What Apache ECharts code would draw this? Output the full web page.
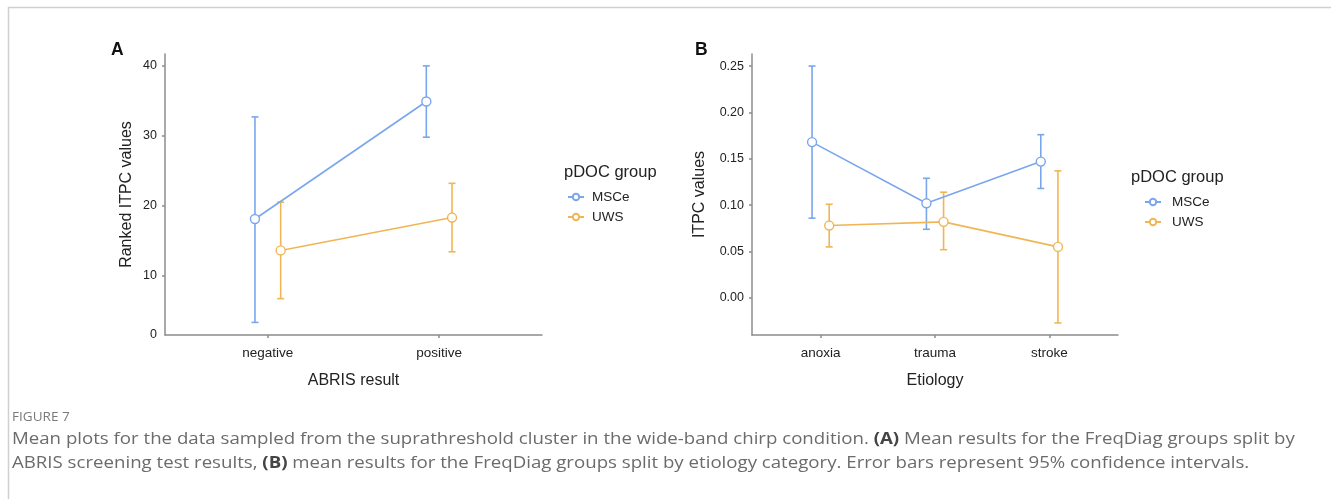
<!DOCTYPE html>
<html>
<head>
<meta charset="utf-8">
<script src="https://cdn.jsdelivr.net/npm/echarts@6/dist/echarts.min.js"></script>
<style>
html,body{margin:0;padding:0;background:#fff;}
#chart{width:1331px;height:499px;}
</style>
</head>
<body>
<div id="chart"></div>
<script>
// ---------- data ----------
const groups = ['MSCe', 'UWS'];

// Panel A: ABRIS result
const catsA = ['negative', 'positive'];
const msceA_mean = [18.1, 34.9];
const msceA_lo   = [3.3, 29.8];
const msceA_hi   = [32.7, 40.0];
const uwsA_mean  = [13.6, 18.3];
const uwsA_lo    = [6.7, 13.4];
const uwsA_hi    = [20.5, 23.2];
const yTicksA    = [0, 10, 20, 30, 40];

// Panel B: Etiology
const catsB = ['anoxia', 'trauma', 'stroke'];
const msceB_mean = [0.168, 0.102, 0.147];
const msceB_lo   = [0.086, 0.074, 0.118];
const msceB_hi   = [0.250, 0.129, 0.176];
const uwsB_mean  = [0.078, 0.082, 0.055];
const uwsB_lo    = [0.055, 0.052, -0.027];
const uwsB_hi    = [0.101, 0.114, 0.137];
const yTicksB    = [0, 0.05, 0.10, 0.15, 0.20, 0.25];

const captionHead = 'FIGURE 7';
const captionLine1a = 'Mean plots for the data sampled from the suprathreshold cluster in the wide-band chirp condition. ';
const captionLine1b = ' Mean results for the FreqDiag groups split by';
const captionLine2a = 'ABRIS screening test results, ';
const captionLine2b = ' mean results for the FreqDiag groups split by etiology category. Error bars represent 95% confidence intervals.';

// ---------- style ----------
const COL = { MSCe: '#7aa6ee', UWS: '#f0b655' };
const DODGE = 0.075;
const AXIS_COL = '#8c8c8c';
const FONT = 'Liberation Sans, Arial, sans-serif';
const yMinA = 1.5, yMaxA = 41.7;
const yMinB = -0.04, yMaxB = 0.263;

function xAxisFor(cats, gridIndex, name) {
  const vals = cats.map((c, i) => i + 1);
  return {
    type: 'value', gridIndex, min: 0.4, max: cats.length + 0.6,
    name, nameLocation: 'middle', nameGap: 38,
    nameTextStyle: { fontFamily: FONT, fontSize: 16, color: '#222' },
    axisLine: { show: true, onZero: false, lineStyle: { color: AXIS_COL, width: 1.5 } },
    axisTick: { show: true, length: 3, customValues: vals, lineStyle: { color: AXIS_COL, width: 1.5 } },
    axisLabel: { customValues: vals, margin: 11, fontFamily: FONT, fontSize: 13.5, color: '#222',
      formatter: v => cats[Math.round(v) - 1] || '' },
    splitLine: { show: false }
  };
}

function yAxisFor(gridIndex, min, max, ticks, fmt, name, nameGap) {
  const labelVals = ticks.map(v => Math.max(v, min));
  const tickVals = ticks.filter(v => v > min);
  return {
    type: 'value', gridIndex, min, max,
    name, nameLocation: 'middle', nameGap,
    nameTextStyle: { fontFamily: FONT, fontSize: 16, color: '#222' },
    axisLine: { show: true, onZero: false, lineStyle: { color: AXIS_COL, width: 1.5 } },
    axisTick: { show: true, length: 3, customValues: tickVals, lineStyle: { color: AXIS_COL, width: 1.5 } },
    axisLabel: { customValues: labelVals, margin: 8, fontFamily: FONT, fontSize: 12.5, color: '#222',
      formatter: v => fmt(v === min ? ticks[0] : v) },
    splitLine: { show: false }
  };
}

function lineSeries(name, means, xi, yi, offset) {
  return {
    type: 'line', name, xAxisIndex: xi, yAxisIndex: yi,
    data: means.map((m, i) => [i + 1 + offset, m]),
    symbol: 'circle', symbolSize: 9,
    lineStyle: { color: COL[name], width: 1.6 },
    itemStyle: { color: '#fff', borderColor: COL[name], borderWidth: 1.4 },
    z: 3, animation: false, silent: true
  };
}

function errSeries(name, lo, hi, xi, yi, offset) {
  return {
    type: 'custom', name: name + ' CI', xAxisIndex: xi, yAxisIndex: yi,
    data: lo.map((l, i) => [i + 1 + offset, l, hi[i]]),
    encode: { x: 0, y: [1, 2] },
    renderItem: (params, api) => {
      const x = api.value(0);
      const p1 = api.coord([x, api.value(1)]);
      const p2 = api.coord([x, api.value(2)]);
      const hw = 3.5;
      const st = { stroke: COL[name], lineWidth: 1.6 };
      return { type: 'group', children: [
        { type: 'line', shape: { x1: p1[0], y1: p1[1], x2: p2[0], y2: p2[1] }, style: st },
        { type: 'line', shape: { x1: p1[0] - hw, y1: p1[1], x2: p1[0] + hw, y2: p1[1] }, style: st },
        { type: 'line', shape: { x1: p2[0] - hw, y1: p2[1], x2: p2[0] + hw, y2: p2[1] }, style: st }
      ]};
    },
    z: 2, animation: false, silent: true
  };
}

const chart = echarts.init(document.getElementById('chart'), null, { renderer: 'canvas' });

const CAP_FONT = 'Open Sans, sans-serif';
const CAP_SIZE = 16.5;
const CAP_SX = 1.13;
const richB = { b: { fontFamily: CAP_FONT, fontSize: CAP_SIZE, fontWeight: 'bold', fill: '#444' } };

chart.setOption({
  backgroundColor: '#fff',
  animation: false,
  grid: [
    { left: 165, top: 54, width: 377, height: 281 },
    { left: 752, top: 54, width: 366, height: 281 }
  ],
  xAxis: [ xAxisFor(catsA, 0, 'ABRIS result'), xAxisFor(catsB, 1, 'Etiology') ],
  yAxis: [
    yAxisFor(0, yMinA, yMaxA, yTicksA, v => String(v), 'Ranked ITPC values', 30),
    yAxisFor(1, yMinB, yMaxB, yTicksB, v => v.toFixed(2), 'ITPC values', 44)
  ],
  title: [
    { text: 'A', left: 111, top: 41, padding: 0, textStyle: { fontFamily: FONT, fontSize: 17.5, fontWeight: 'bold', color: '#111' } },
    { text: 'B', left: 695, top: 41, padding: 0, textStyle: { fontFamily: FONT, fontSize: 17.5, fontWeight: 'bold', color: '#111' } },
    { text: 'pDOC group', left: 564, top: 164, padding: 0, textStyle: { fontFamily: FONT, fontSize: 16.5, fontWeight: 'normal', color: '#222' } },
    { text: 'pDOC group', left: 1131, top: 169, padding: 0, textStyle: { fontFamily: FONT, fontSize: 16.5, fontWeight: 'normal', color: '#222' } }
  ],
  legend: [
    { data: groups, orient: 'vertical', left: 567, top: 190, padding: 0, itemWidth: 16, itemHeight: 8, itemGap: 6,
      textStyle: { fontFamily: FONT, fontSize: 13.5, color: '#222', lineHeight: 14, padding: [0, 0, 0, 3] }, selectedMode: false },
    { data: groups, orient: 'vertical', left: 1144, top: 195, padding: 0, itemWidth: 16, itemHeight: 8, itemGap: 6,
      textStyle: { fontFamily: FONT, fontSize: 13.5, color: '#222', lineHeight: 14, padding: [0, 0, 0, 6] }, selectedMode: false }
  ],
  series: [
    lineSeries('MSCe', msceA_mean, 0, 0, -DODGE),
    lineSeries('UWS', uwsA_mean, 0, 0, DODGE),
    errSeries('MSCe', msceA_lo, msceA_hi, 0, 0, -DODGE),
    errSeries('UWS', uwsA_lo, uwsA_hi, 0, 0, DODGE),
    lineSeries('MSCe', msceB_mean, 1, 1, -DODGE),
    lineSeries('UWS', uwsB_mean, 1, 1, DODGE),
    errSeries('MSCe', msceB_lo, msceB_hi, 1, 1, -DODGE),
    errSeries('UWS', uwsB_lo, uwsB_hi, 1, 1, DODGE)
  ],
  graphic: [
    { type: 'line', shape: { x1: 8, y1: 7.5, x2: 1331, y2: 7.5 }, style: { stroke: '#d0d0d0', lineWidth: 1.5 }, silent: true },
    { type: 'line', shape: { x1: 8.5, y1: 7, x2: 8.5, y2: 499 }, style: { stroke: '#d0d0d0', lineWidth: 1.5 }, silent: true },
    { type: 'text', x: 12, y: 412, scaleX: CAP_SX, style: { text: captionHead, fontFamily: CAP_FONT, fontSize: 12, fill: '#7a7a7a' } },
    { type: 'text', x: 12, y: 431, scaleX: CAP_SX, style: {
        text: captionLine1a + '{b|(A)}' + captionLine1b,
        fontFamily: CAP_FONT, fontSize: CAP_SIZE, fill: '#6b6b6b', rich: richB } },
    { type: 'text', x: 12, y: 455, scaleX: CAP_SX, style: {
        text: captionLine2a + '{b|(B)}' + captionLine2b,
        fontFamily: CAP_FONT, fontSize: CAP_SIZE, fill: '#6b6b6b', rich: richB } }
  ]
});
</script>
</body>
</html>
